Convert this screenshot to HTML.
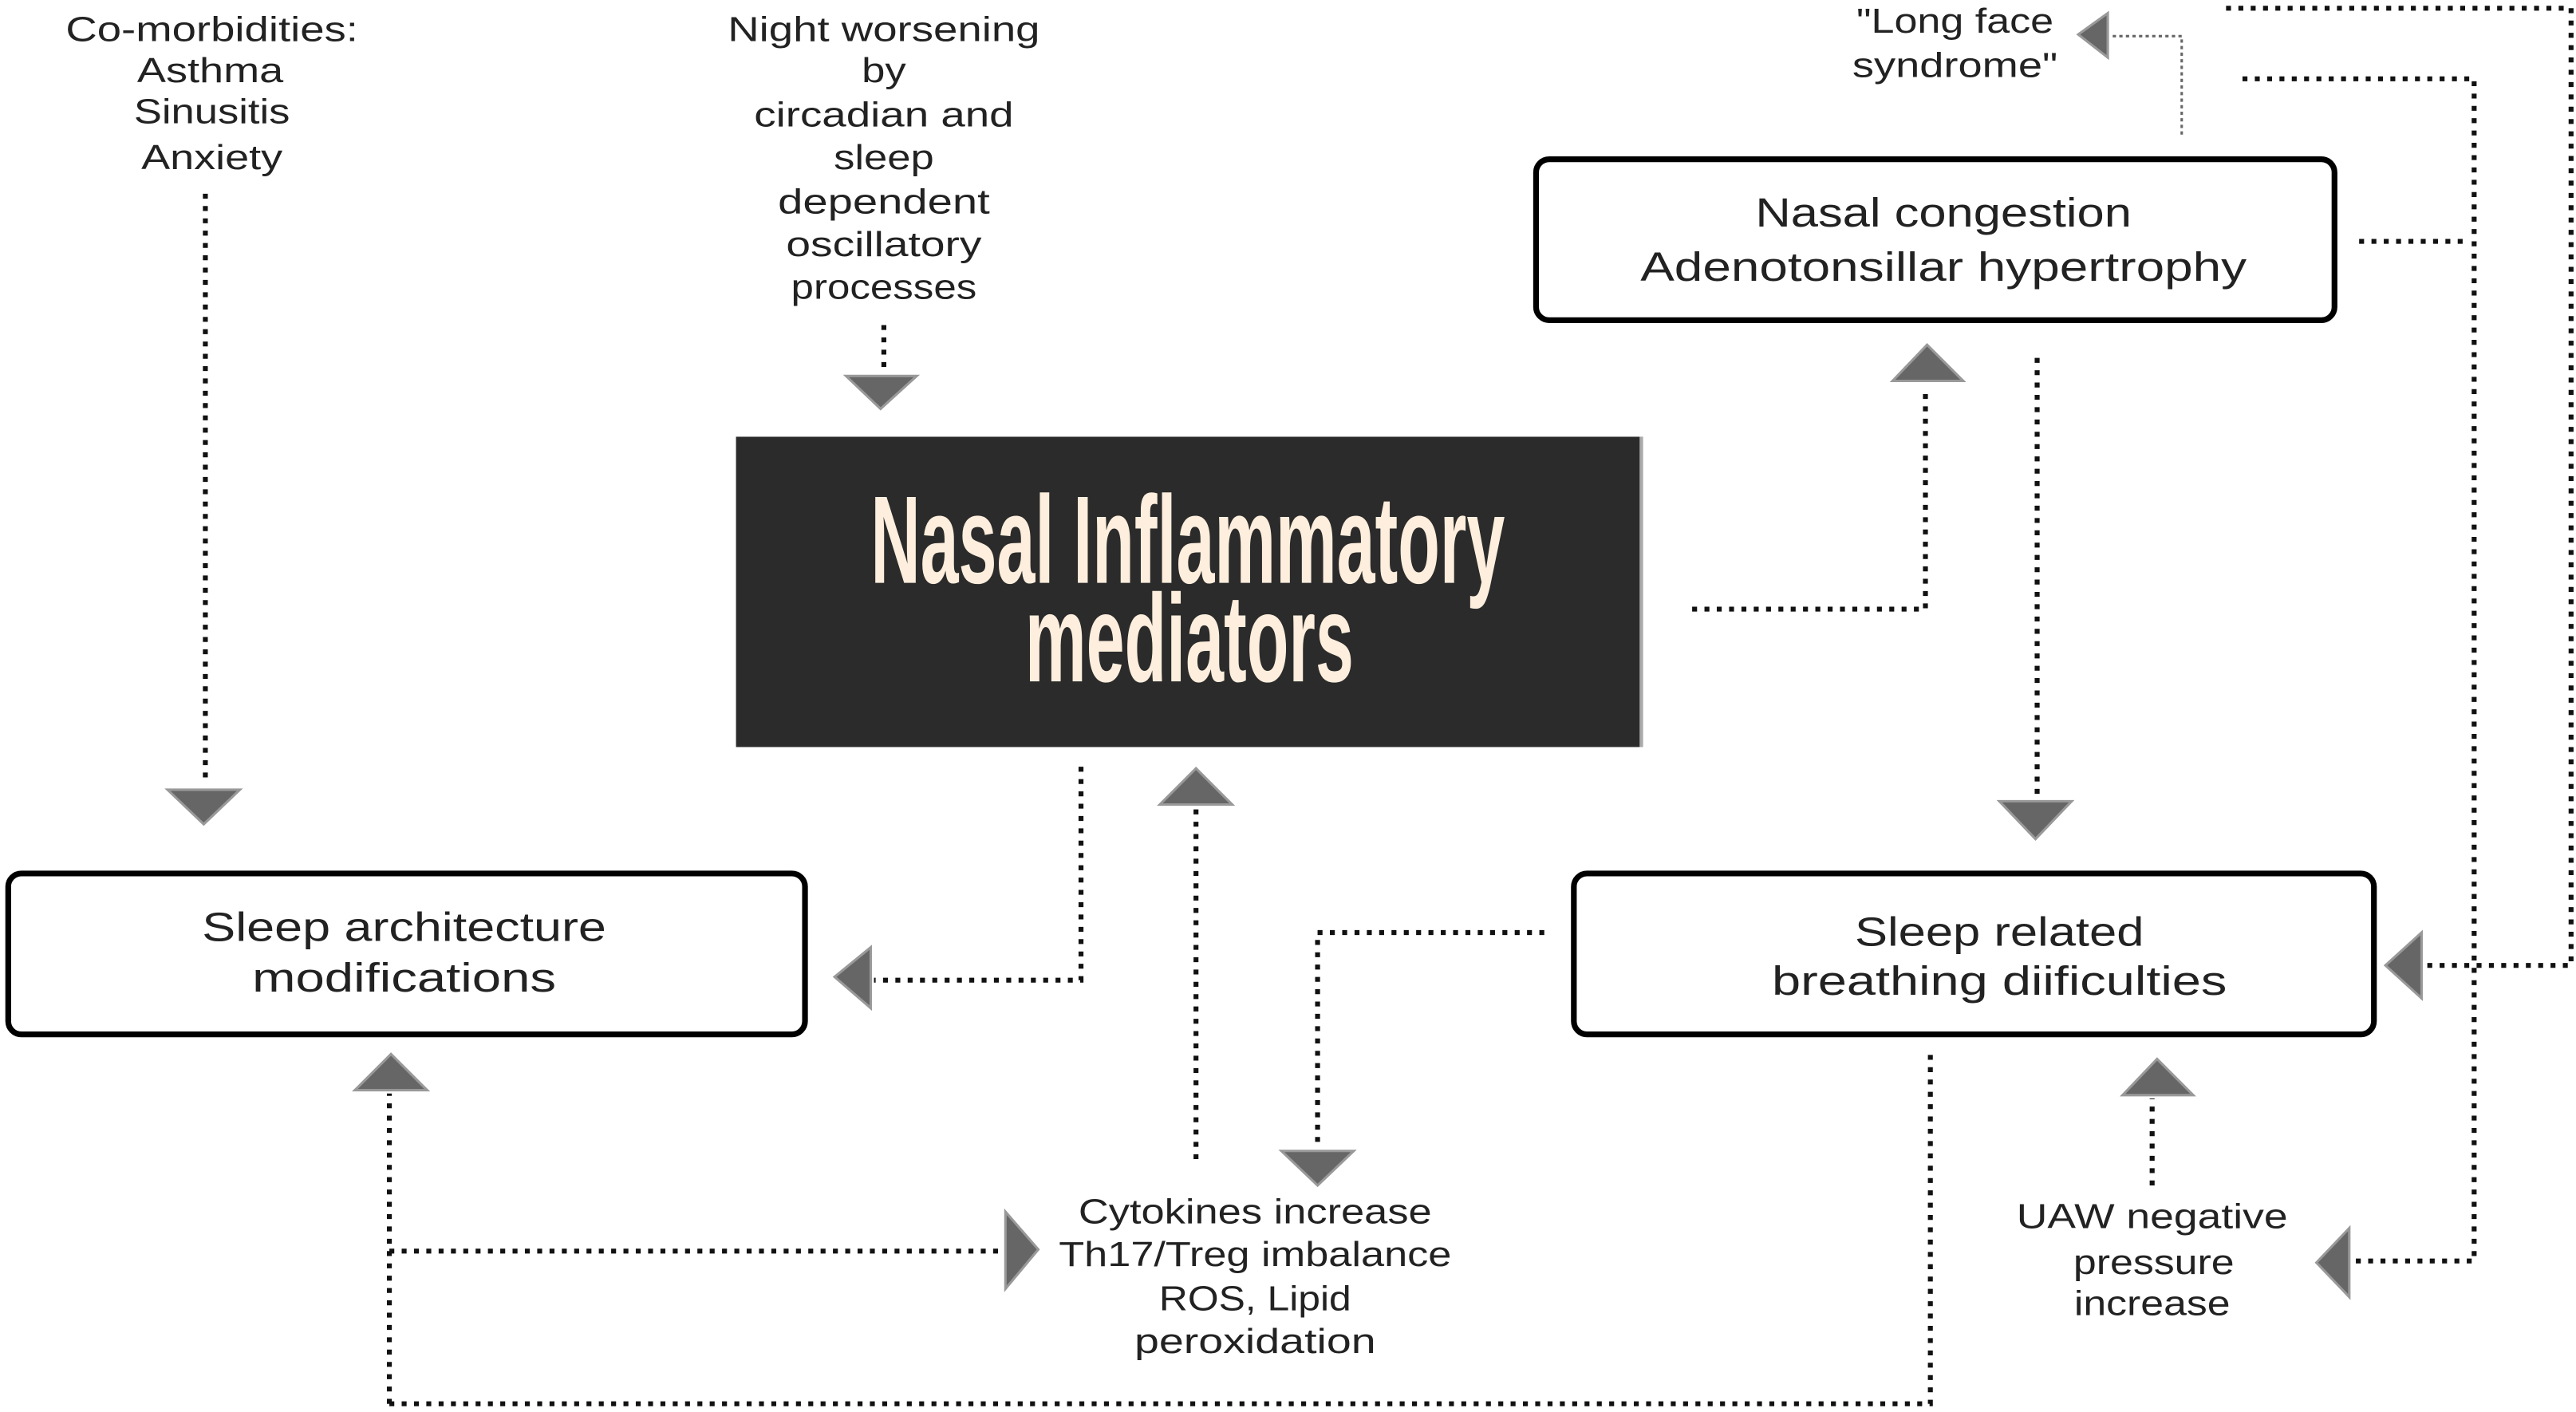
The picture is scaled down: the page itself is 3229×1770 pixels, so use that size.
<!DOCTYPE html>
<html><head><meta charset="utf-8"><style>
html,body{margin:0;padding:0;background:#fff;}
svg{display:block;}
text{font-family:"Liberation Sans","DejaVu Sans",sans-serif;fill:#222;}
</style></head><body>
<svg width="3229" height="1770" viewBox="0 0 1568 860" preserveAspectRatio="none" xmlns="http://www.w3.org/2000/svg">
<defs>
<style>
.d{fill:none;stroke:#111;stroke-width:3;stroke-dasharray:3 4.5;}
.t{fill:none;stroke:#666;stroke-width:1.5;stroke-dasharray:2 2;}
.a{fill:#666;stroke:#999;stroke-width:1.5;}
.b{fill:#fff;stroke:#000;stroke-width:3.5;}
.s{font-size:21px;text-anchor:middle;}
.m{font-size:25px;text-anchor:middle;}
</style>
</defs>
<rect width="1568" height="860" fill="#fff"/>

<rect x="448" y="266" width="552" height="189" fill="#2b2b2b"/>
<line x1="999" y1="266" x2="999" y2="455" stroke="#aaa" stroke-width="2"/>
<text x="530" y="355" font-size="76" font-weight="bold" textLength="386" lengthAdjust="spacingAndGlyphs" style="fill:#fdeedd;font-family:'Liberation Sans Narrow','Liberation Sans',sans-serif">Nasal Inflammatory</text>
<text x="624" y="415" font-size="76" font-weight="bold" textLength="200" lengthAdjust="spacingAndGlyphs" style="fill:#fdeedd;font-family:'Liberation Sans Narrow','Liberation Sans',sans-serif">mediators</text>

<rect class="b" x="935" y="97" width="486" height="98" rx="8"/>
<text class="m" x="1183" y="138" textLength="229" lengthAdjust="spacingAndGlyphs">Nasal congestion</text>
<text class="m" x="1183" y="171" textLength="369" lengthAdjust="spacingAndGlyphs">Adenotonsillar hypertrophy</text>

<rect class="b" x="5" y="532" width="485" height="98" rx="8"/>
<text class="m" x="246" y="573" textLength="246" lengthAdjust="spacingAndGlyphs">Sleep architecture</text>
<text class="m" x="246" y="604" textLength="185" lengthAdjust="spacingAndGlyphs">modifications</text>

<rect class="b" x="958" y="532" width="487" height="98" rx="8"/>
<text class="m" x="1217" y="576" textLength="176" lengthAdjust="spacingAndGlyphs">Sleep related</text>
<text class="m" x="1217" y="606" textLength="277" lengthAdjust="spacingAndGlyphs">breathing diificulties</text>

<text class="s" x="129" y="25" textLength="178" lengthAdjust="spacingAndGlyphs">Co-morbidities:</text>
<text class="s" x="128" y="50" textLength="89" lengthAdjust="spacingAndGlyphs">Asthma</text>
<text class="s" x="129" y="75" textLength="95" lengthAdjust="spacingAndGlyphs">Sinusitis</text>
<text class="s" x="129" y="103" textLength="86" lengthAdjust="spacingAndGlyphs">Anxiety</text>

<text class="s" x="538" y="25" textLength="190" lengthAdjust="spacingAndGlyphs">Night worsening</text>
<text class="s" x="538" y="50" textLength="27" lengthAdjust="spacingAndGlyphs">by</text>
<text class="s" x="538" y="77" textLength="158" lengthAdjust="spacingAndGlyphs">circadian and</text>
<text class="s" x="538" y="103" textLength="61" lengthAdjust="spacingAndGlyphs">sleep</text>
<text class="s" x="538" y="130" textLength="129" lengthAdjust="spacingAndGlyphs">dependent</text>
<text class="s" x="538" y="156" textLength="119" lengthAdjust="spacingAndGlyphs">oscillatory</text>
<text class="s" x="538" y="182" textLength="113" lengthAdjust="spacingAndGlyphs">processes</text>

<text class="s" x="1190" y="20" textLength="120" lengthAdjust="spacingAndGlyphs">"Long face</text>
<text class="s" x="1190" y="47" textLength="125" lengthAdjust="spacingAndGlyphs">syndrome"</text>

<text class="s" x="764" y="745" textLength="215" lengthAdjust="spacingAndGlyphs">Cytokines increase</text>
<text class="s" x="764" y="771" textLength="239" lengthAdjust="spacingAndGlyphs">Th17/Treg imbalance</text>
<text class="s" x="764" y="798" textLength="117" lengthAdjust="spacingAndGlyphs">ROS, Lipid</text>
<text class="s" x="764" y="824" textLength="147" lengthAdjust="spacingAndGlyphs">peroxidation</text>

<text class="s" x="1310" y="748" textLength="165" lengthAdjust="spacingAndGlyphs">UAW negative</text>
<text class="s" x="1311" y="776" textLength="98" lengthAdjust="spacingAndGlyphs">pressure</text>
<text class="s" x="1310" y="801" textLength="95" lengthAdjust="spacingAndGlyphs">increase</text>

<path class="d" d="M125 118 V478"/>
<polygon class="a" points="102,481 146,481 124,502"/>

<path class="d" d="M538 198 V226"/>
<polygon class="a" points="515,229 558,229 536,249"/>

<path class="d" d="M1030 371 H1172 V236"/>
<polygon class="a" points="1152,232 1195,232 1173,210"/>

<path class="d" d="M1240 218 V486"/>
<polygon class="a" points="1217,488 1261,488 1239,511"/>

<path class="d" d="M658 467 V597 H532"/>
<polygon class="a" points="530,577 530,614 508,595"/>

<path class="d" d="M728 706 V492"/>
<polygon class="a" points="706,490 750,490 728,468"/>

<path class="d" d="M940 568 H802 V700"/>
<polygon class="a" points="780,701 824,701 802,722"/>

<path class="d" d="M237 855 V666"/>
<polygon class="a" points="216,664 260,664 238,642"/>
<path class="d" d="M237 762 H611"/>
<polygon class="a" points="612,738 612,785 632,761"/>

<path class="d" d="M237 855 H1175 V638"/>

<path class="d" d="M1310 722 V669"/>
<polygon class="a" points="1292,667 1335,667 1313,645"/>

<path class="d" d="M1355 5 H1565 V588 H1476"/>
<polygon class="a" points="1474,568 1474,608 1452,588"/>

<path class="d" d="M1365 48 H1506 V768 H1432"/>
<polygon class="a" points="1430,748 1430,790 1410,769"/>
<path class="d" d="M1436 147 H1502"/>

<path class="t" d="M1328 82 V22 H1285"/>
<polygon class="a" points="1283,8 1283,35 1265,21"/>
</svg>
</body></html>
